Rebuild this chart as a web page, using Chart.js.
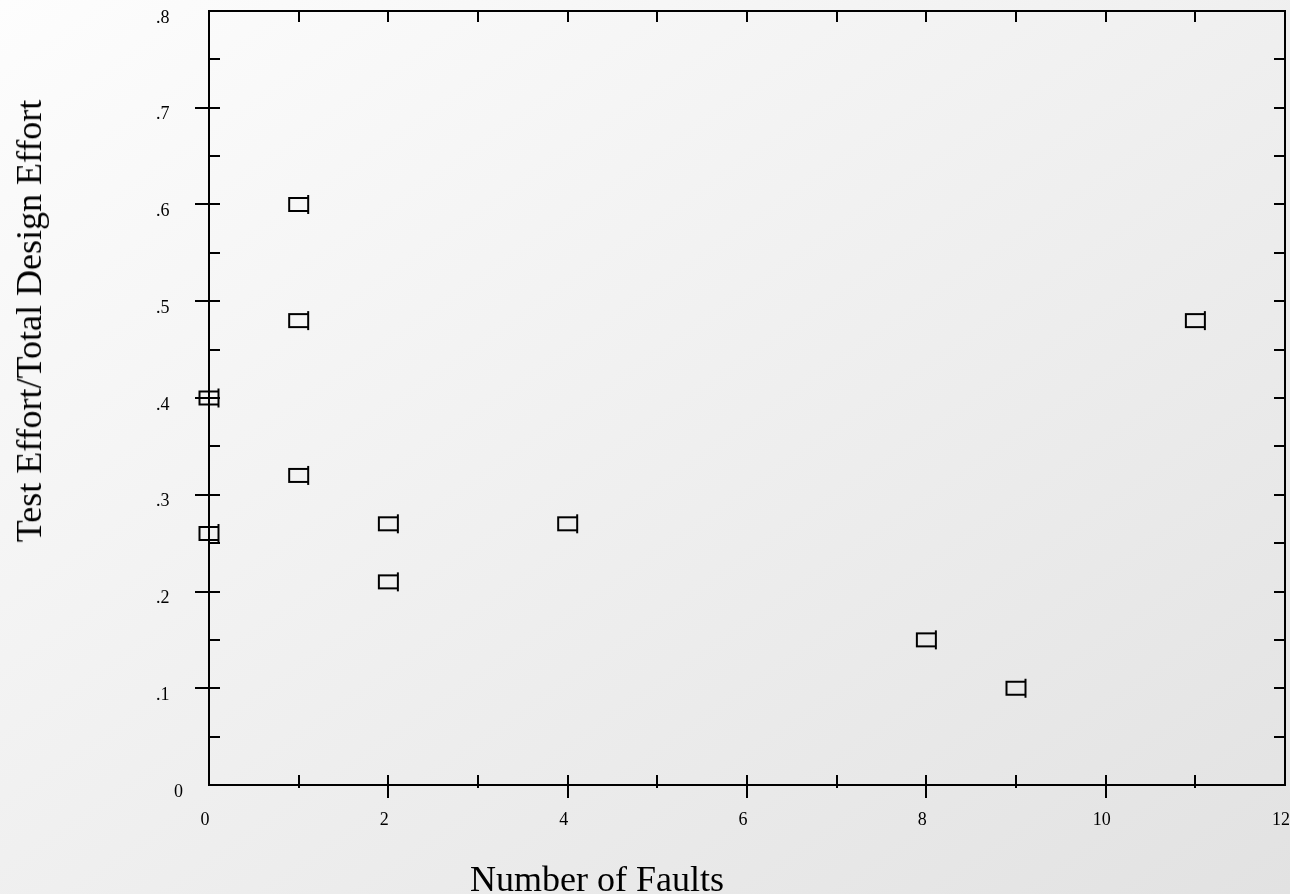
<!DOCTYPE html>
<html><head><meta charset="utf-8">
<script src="https://cdn.jsdelivr.net/npm/chart.js@4"></script>
<style>
html,body{margin:0;padding:0;}
body{width:1290px;height:894px;overflow:hidden;background:linear-gradient(to bottom right,#fdfdfd,#e2e2e2);font-family:'Liberation Serif',serif;position:relative;}
#wrap{position:absolute;left:0;top:0;width:1296px;height:894px;}
#c{display:block;}
.title{position:absolute;font-size:36px;line-height:36px;white-space:nowrap;color:#000;}
#xt{left:470px;top:861px;}
#yt{left:29px;top:321px;transform:translate(-50%,-50%) rotate(-90deg);}
</style></head>
<body>
<div id="wrap"><canvas id="c" width="1296" height="894"></canvas></div>
<div class="title" id="xt">Number of Faults</div>
<div class="title" id="yt">Test Effort/Total Design Effort</div>
<script>
// ---- data ----
const faults = [1, 1, 0, 1, 0, 2, 2, 4, 8, 9, 11];
const effortRatio = [0.60, 0.48, 0.40, 0.32, 0.26, 0.27, 0.21, 0.27, 0.15, 0.10, 0.48];
const xTickLabels = ['0', '2', '4', '6', '8', '10', '12'];
const yTickLabels = ['0', '.1', '.2', '.3', '.4', '.5', '.6', '.7', '.8'];

Chart.defaults.font.family = "'Liberation Serif', serif";
Chart.defaults.color = '#000';

function makeMarker(){
  const c = document.createElement('canvas');
  c.width = 25; c.height = 21;
  const g = c.getContext('2d');
  g.strokeStyle = '#000'; g.lineWidth = 2;
  g.strokeRect(3, 4, 19, 13);
  g.beginPath(); g.moveTo(22, 1); g.lineTo(22, 20); g.stroke();
  return c;
}

const frameTicks = {
  id: 'frameTicks',
  beforeDatasetsDraw(chart){
    const {ctx, chartArea: a, scales: {x, y}} = chart;
    ctx.save();
    ctx.strokeStyle = '#000'; ctx.lineWidth = 2; ctx.lineCap = 'butt';
    ctx.strokeRect(a.left, a.top, a.right - a.left, a.bottom - a.top);
    ctx.beginPath();
    for (let i = 1; i < 16; i++){
      const py = Math.round(y.getPixelForValue(i * 0.05));
      if (i % 2 === 0){ ctx.moveTo(a.left - 14, py); ctx.lineTo(a.left + 11, py); }
      else { ctx.moveTo(a.left, py); ctx.lineTo(a.left + 11, py); }
      ctx.moveTo(a.right, py); ctx.lineTo(a.right - 11, py);
    }
    for (let i = 1; i < 12; i++){
      const px = Math.round(x.getPixelForValue(i));
      ctx.moveTo(px, a.bottom - 10); ctx.lineTo(px, a.bottom + (i % 2 === 0 ? 13 : 3));
      ctx.moveTo(px, a.top); ctx.lineTo(px, a.top + 11);
    }
    ctx.stroke();
    ctx.restore();
  }
};

new Chart(document.getElementById('c'), {
  type: 'scatter',
  data: {
    datasets: [{
      data: faults.map((f, i) => ({x: f, y: effortRatio[i]})),
      pointStyle: makeMarker(),
      pointRadius: 10,
      showLine: false,
      clip: false
    }]
  },
  options: {
    responsive: false,
    animation: false,
    layout: {padding: {left: 0, top: 11, right: 0, bottom: 0}},
    plugins: {legend: {display: false}, tooltip: {enabled: false}},
    scales: {
      x: {
        type: 'linear', min: 0, max: 12, position: 'bottom',
        grid: {display: false, drawTicks: false},
        border: {display: false},
        ticks: {
          stepSize: 2, maxRotation: 0, padding: 24, labelOffset: -4,
          font: {size: 18}, color: '#000',
          callback: (v) => xTickLabels[Math.round(v / 2)]
        },
        afterFit(s){ s.height = 109; s.paddingLeft = 0; s.paddingRight = 0; }
      },
      y: {
        type: 'linear', min: 0, max: 0.8,
        grid: {display: false, drawTicks: false},
        border: {display: false},
        ticks: {
          stepSize: 0.1, padding: 26, labelOffset: 7,
          font: {size: 18}, color: '#000',
          callback: (v) => { const i = Math.round(v * 10); return i === 0 ? yTickLabels[i] : yTickLabels[i] + '   '; }
        },
        afterFit(s){ s.width = 209; s.paddingTop = 0; s.paddingBottom = 0; }
      }
    }
  },
  plugins: [frameTicks]
});
</script>
</body></html>
